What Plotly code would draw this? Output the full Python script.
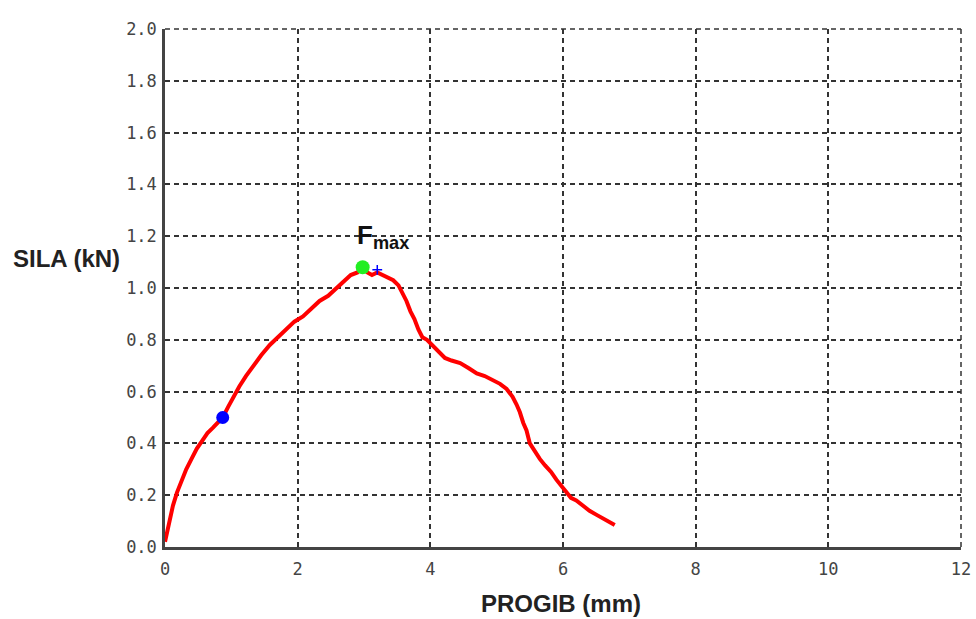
import plotly.graph_objects as go

# Load-deflection curve (PROGIB mm, SILA kN)
progib = [0.00, 0.03, 0.07, 0.12, 0.18, 0.25, 0.32, 0.40, 0.48, 0.56, 0.64, 0.72, 0.80, 0.87,
          0.95, 1.03, 1.12, 1.22, 1.33, 1.45, 1.58, 1.70, 1.82, 1.95, 2.08, 2.20, 2.33,
          2.46, 2.58, 2.70, 2.80, 2.90, 2.97, 3.05, 3.12, 3.20, 3.28, 3.36, 3.44, 3.52,
          3.58, 3.64, 3.70, 3.76, 3.82, 3.88, 3.95, 4.03, 4.12, 4.22, 4.32, 4.45, 4.58,
          4.70, 4.82, 4.95, 5.05, 5.15, 5.24, 5.30, 5.35, 5.40, 5.45, 5.50, 5.57, 5.65,
          5.73, 5.82, 5.90, 5.98, 6.05, 6.12, 6.20, 6.30, 6.40, 6.50, 6.60, 6.70, 6.78]
sila = [0.02, 0.06, 0.11, 0.16, 0.21, 0.26, 0.30, 0.34, 0.38, 0.41, 0.44, 0.46, 0.48, 0.50,
        0.54, 0.58, 0.62, 0.66, 0.70, 0.74, 0.78, 0.81, 0.84, 0.87, 0.89, 0.92, 0.95,
        0.97, 1.00, 1.03, 1.05, 1.06, 1.08, 1.06, 1.05, 1.06, 1.05, 1.04, 1.03, 1.01,
        0.98, 0.95, 0.91, 0.88, 0.84, 0.81, 0.80, 0.78, 0.76, 0.73, 0.72, 0.71, 0.69,
        0.67, 0.66, 0.645, 0.63, 0.61, 0.58, 0.55, 0.52, 0.48, 0.45, 0.40, 0.37, 0.34,
        0.315, 0.29, 0.26, 0.235, 0.21, 0.19, 0.18, 0.16, 0.14, 0.125, 0.11, 0.095, 0.085]

fmax_point = (2.98, 1.08)
blue_point = (0.87, 0.50)
plus_point = (3.20, 1.07)

x_ticks = [0, 2, 4, 6, 8, 10, 12]
y_ticks = [0.0, 0.2, 0.4, 0.6, 0.8, 1.0, 1.2, 1.4, 1.6, 1.8, 2.0]

fig = go.Figure()
fig.add_trace(go.Scatter(x=progib, y=sila, mode="lines",
                         line=dict(color="#ff0000", width=4), hoverinfo="skip"))
fig.add_trace(go.Scatter(x=[blue_point[0]], y=[blue_point[1]], mode="markers",
                         marker=dict(color="#0000ff", size=13, symbol="circle")))
fig.add_trace(go.Scatter(x=[fmax_point[0]], y=[fmax_point[1]], mode="markers",
                         marker=dict(color="#22ee22", size=14, symbol="circle")))
fig.add_trace(go.Scatter(x=[plus_point[0]], y=[plus_point[1]], mode="markers",
                         marker=dict(color="#0000ff", size=7, symbol="cross-thin",
                                     line=dict(color="#0000ff", width=1.5))))

DASH = "5px,4px"
grid = dict(showgrid=True, gridcolor="#333333", gridwidth=1.5, griddash=DASH,
            zeroline=False, showline=True, linecolor="#444444", linewidth=2.5,
            ticks="", automargin=False,
            tickfont=dict(family="DejaVu Sans Mono", size=17, color="#444444"))

fig.update_xaxes(range=[0, 12], tickvals=x_ticks, ticktext=[str(v) for v in x_ticks],
                 ticklabelstandoff=5, **grid)
fig.update_yaxes(range=[0, 2], tickvals=y_ticks, ticktext=[f"{v:.1f}" for v in y_ticks],
                 ticklabelstandoff=2, **grid)

# top and right border dashed lines (paper refs so they are not clipped)
fig.add_shape(type="line", xref="paper", yref="paper", x0=0, x1=1, y0=1, y1=1,
              line=dict(color="#333333", width=1.5, dash=DASH))
fig.add_shape(type="line", xref="paper", yref="paper", x0=1, x1=1, y0=0, y1=1,
              line=dict(color="#333333", width=1.5, dash=DASH))

fig.add_annotation(x=3.29, y=1.20, xref="x", yref="y", showarrow=False,
                   text="<b>F<sub>max</sub></b>",
                   font=dict(family="Liberation Sans, Arial", size=26, color="#111111"))
fig.add_annotation(x=66, y=258, xref="paper", yref="paper", showarrow=False,
                   text="<b>SILA (kN)</b>", xanchor="center", yanchor="middle",
                   font=dict(family="Liberation Sans, Arial", size=24, color="#222222"))
fig.add_annotation(x=561, y=603, xref="paper", yref="paper", showarrow=False,
                   text="<b>PROGIB (mm)</b>", xanchor="center", yanchor="middle",
                   font=dict(family="Liberation Sans, Arial", size=24, color="#222222"))

# convert pixel positions of titles into paper coordinates
L, R, T, B, W, H = 165, 15, 29, 72, 976, 619
pw, ph = W - L - R, H - T - B
for ann in fig.layout.annotations[1:]:
    ann.x = (ann.x - L) / pw
    ann.y = (H - B - ann.y) / ph

fig.update_layout(width=W, height=H, showlegend=False,
                  margin=dict(l=L, r=R, t=T, b=B, autoexpand=False),
                  plot_bgcolor="white", paper_bgcolor="white")

fig.write_html("out.html", config={"displayModeBar": False},
               post_script="document.body.style.margin='0px';document.body.style.overflow='hidden';")
